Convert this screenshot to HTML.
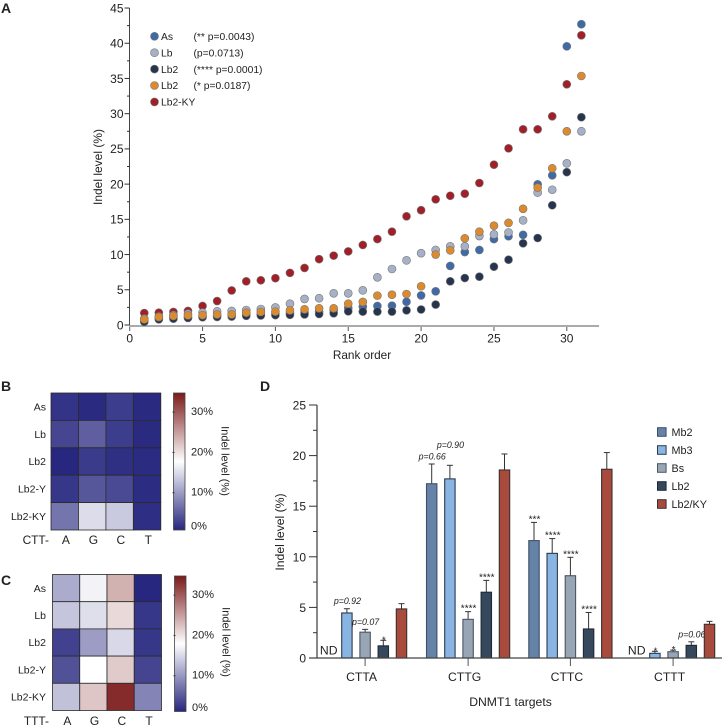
<!DOCTYPE html>
<html><head><meta charset="utf-8"><title>Indel level figure</title>
<style>
html,body{margin:0;padding:0;background:#fff;width:723px;height:727px;overflow:hidden}
svg{display:block;font-family:"Liberation Sans",sans-serif}
text{fill:#222}
</style></head>
<body>
<svg id="fig" width="723" height="727" viewBox="0 0 723 727">
<text x="1" y="13" font-size="14" font-weight="bold" fill="#000">A</text>
<text x="1" y="391" font-size="14" font-weight="bold" fill="#000">B</text>
<text x="1" y="585" font-size="14" font-weight="bold" fill="#000">C</text>
<text x="260" y="391" font-size="14" font-weight="bold" fill="#000">D</text>
</svg>
<script>
// Panel A data
const ranks=[1,2,3,4,5,6,7,8,9,10,11,12,13,14,15,16,17,18,19,20,21,22,23,24,25,26,27,28,29,30,31];
const scatterNames=['Lb2-KY','As','Lb','Lb2','Lb2-orange'];
const scatterKY=[1.7,1.75,1.85,2.0,2.7,3.4,4.9,6.2,6.35,6.65,7.4,8.1,9.35,9.85,10.45,11.36,12.2,13.25,15.43,16.3,17.84,18.35,18.64,20.16,22.76,25.08,27.78,27.78,29.63,34.17,41.13];
const scatterAs=[0.6,0.9,1.0,1.1,1.2,1.3,1.4,1.45,1.5,1.6,1.7,1.8,1.9,2.1,2.4,2.6,2.7,2.75,3.3,4.2,4.78,8.38,10.36,10.65,12.2,12.6,12.8,19.97,21.25,39.56,42.7];
const scatterLb=[0.9,1.2,1.4,1.6,1.75,1.95,2.0,2.13,2.27,2.5,3.02,3.7,3.8,4.5,4.5,4.92,6.77,7.95,9.18,10.2,10.65,11.17,11.17,12.63,12.87,13.15,14.86,18.8,19.2,22.95,27.5];
const scatterLb2=[0.45,0.8,0.9,1.0,1.1,1.15,1.2,1.3,1.35,1.4,1.45,1.5,1.56,1.66,1.94,1.9,1.9,1.9,2.08,2.2,2.9,6.2,6.67,6.86,8.28,9.27,11.6,12.35,17.0,21.7,29.5];
const scatterOrange=[0.8,1.13,1.28,1.37,1.4,1.5,1.5,1.75,1.85,1.9,2.08,2.23,2.37,2.37,3.03,3.27,4.17,4.3,4.4,5.5,10.0,10.6,12.3,13.25,14.1,14.5,16.5,19.5,22.25,27.5,35.35];
const scatterYTicks=[0,5,10,15,20,25,30,35,40,45];
const scatterYMinor=[2.5,7.5,12.5,17.5,22.5,27.5,32.5,37.5,42.5];
const scatterXTicks=[0,5,10,15,20,25,30];
const scatterLegend=['As','Lb','Lb2','Lb2','Lb2-KY'];
const scatterLegendP=['(** p=0.0043)','(p=0.0713)','(**** p=0.0001)','(* p=0.0187)',''];
// Panels B, C data
const heatRows=['As','Lb','Lb2','Lb2-Y','Lb2-KY'];
const heatCols=['A','G','C','T'];
const heatB=[[1.7,1.0,2.5,1.0],[3.1,5.0,2.5,1.0],[0.8,2.3,1.4,1.1],[2.0,4.4,3.4,1.2],[6.8,14.8,13.3,1.3]];
const heatC=[[11,16.5,23.2,0.8],[13,15,20.3,2.0],[2.8,9.8,14.5,2.0],[4,17.5,21.4,3],[12.7,21.7,33,8]];
const cbarTicks=[0,10,20,30];
// Panel D data
const barGroups=['CTTA','CTTG','CTTC','CTTT'];
const barSeries=['Mb2','Mb3','Bs','Lb2','Lb2/KY'];
const barValues=[[null,4.45,2.55,1.2,4.85],[17.22,17.7,3.82,6.5,18.58],[11.6,10.34,8.13,2.87,18.65],[null,0.46,0.62,1.25,3.33]];
const barErrTops=[[null,4.87,2.83,1.75,5.37],[19.17,19.04,4.58,7.67,20.16],[13.4,11.8,9.95,4.5,20.3],[null,0.66,0.78,1.6,3.62]];
const barNotes=[[null,'p=0.92','p=0.07','*',null],['p=0.66','p=0.90','****','****',null],['***','****','****','****',null],[null,'*','*','p=0.06',null]];
const barYTicks=[0,5,10,15,20,25];
const barYMinor=[2.5,7.5,12.5,17.5,22.5];

const svg=document.getElementById('fig');
const NS='http://www.w3.org/2000/svg';
function mk(tag,attrs,parent){const e=document.createElementNS(NS,tag);for(const k in attrs)e.setAttribute(k,attrs[k]);(parent||svg).appendChild(e);return e;}
function line(x1,y1,x2,y2,stroke,w){return mk('line',{x1,y1,x2,y2,stroke,'stroke-width':w});}
function label(x,y,s,size,anchor,extra){const e=mk('text',Object.assign({x,y,'font-size':size,'text-anchor':anchor||'start'},extra||{}));e.textContent=s;return e;}
let el;

// ---------- Panel A ----------
const ax=v=>129.7+v*14.57;
const ay=v=>325-v*7.044;
el=line(129.5,ay(45),129.5,326,'#444',1);


el=line(129,326,599,326,'#aaa',2);


scatterYTicks.forEach(v=>{
  el=line(124.5,ay(v),129.5,ay(v),'#333',1);
  
  
  el=label(123.5,ay(v)+4.3,String(v),12,'end');
  
  
});
scatterYMinor.forEach(v=>{
  el=line(127,ay(v),129.5,ay(v),'#333',1);
  
  
});
scatterXTicks.forEach(v=>{
  el=line(ax(v),327,ax(v),331,'#555',1);
  
  
  el=label(ax(v),342.5,String(v),12,'middle');
  
  
});
el=label(362,359,'Rank order',11.8,'middle');


el=label(0,0,'Indel level (%)',12,'middle',{transform:'translate(102,167) rotate(-90)'});


const scatterDraw=[[scatterKY,'#a01f28'],[scatterAs,'#3f6aa6'],[scatterLb,'#a6b0c6'],[scatterLb2,'#27344d'],[scatterOrange,'#dc8a2e']];
scatterDraw.forEach((s,i)=>{
  s[0].forEach((v,j)=>{
    el=mk('circle',{cx:ax(ranks[j]),cy:ay(v),r:4,fill:s[1],stroke:'#777','stroke-width':0.6});
    
    
  });
});
const legendColors=['#3f6aa6','#a6b0c6','#27344d','#dc8a2e','#a01f28'];
scatterLegend.forEach((t,i)=>{
  const y=36.3+i*16.4;
  el=mk('circle',{cx:154.5,cy:y,r:4,fill:legendColors[i],stroke:'#777','stroke-width':0.6});
  
  
  el=label(161,y+3.7,t,10.3);
  
  
  if(scatterLegendP[i]){
    el=label(193.5,y+3.7,scatterLegendP[i],10.3);
    
    
  }
});

// ---------- Panels B, C ----------
function hex(a,b,t){return Math.round(a+(b-a)*t);}
function cmap(v){
  const lo=[38,38,127],mid=[255,255,255],hi=[123,26,26],w=17.5,m=0.7,M=34.25;
  const t=v<w?Math.max(0,(v-m)/(w-m)):Math.min(1,(v-w)/(M-w));
  const a=v<w?lo:mid,b=v<w?mid:hi;
  return 'rgb('+hex(a[0],b[0],t)+','+hex(a[1],b[1],t)+','+hex(a[2],b[2],t)+')';
}
const defs=mk('defs',{});
const grad=mk('linearGradient',{id:'cbar',x1:0,y1:1,x2:0,y2:0},defs);
[0.7,5,9,13,17.5,21,25,29,34.25].forEach(v=>{mk('stop',{offset:(v-0.7)/33.55,'stop-color':cmap(v)},grad);});
function heatmap(id,data,x0,y0,cw,ch,prefix,barX,barTop,barBottom,zeroY,titleY,xLabelY){
  data.forEach((row,r)=>{row.forEach((v,c)=>{
    el=mk('rect',{x:x0+c*cw,y:y0+r*ch,width:cw,height:ch,fill:cmap(v),stroke:'#2a2a2a','stroke-width':0.8});
    
    
  });});
  heatRows.forEach((t,r)=>{
    el=label(46,y0+r*ch+ch/2+3.7,t,10.5,'end');
    
    
  });
  heatCols.forEach((t,c)=>{
    el=label(x0+c*cw+cw/2+1.2,xLabelY,t,12,'middle');
    
    
  });
  el=label(49,xLabelY,prefix,11.9,'end');
  
  
  el=mk('rect',{x:barX,y:barTop,width:11.5,height:barBottom-barTop,fill:'url(#cbar)',stroke:'#444','stroke-width':0.8});
  
  
  cbarTicks.forEach(v=>{
    const y=zeroY-v*4.03;
    if(v>0){
      el=line(barX-1,y,barX+1,y,'#333',1);
      
      
    }
    el=label(barX+17.5,(v===0?barBottom-0.5:y+3),v+'%',11);
    
    
  });
  el=label(0,0,'Indel level (%)',11,'middle',{transform:'translate('+(barX+48)+','+titleY+') rotate(90)'});
  
  
}
heatmap('heatmap-b',heatB,51,393,27.45,27.4,'CTT-',173.5,393,530,533,461,544);
heatmap('heatmap-c',heatC,52.5,574.5,27.25,27.2,'TTT-',174.5,576,711.5,716,642,725);

// ---------- Panel D ----------
const by=v=>658-v*10.12;
const groupStart=[328.7,431.7,534,636.7];
const seriesFill=['#6582a8','#8ab4e2','#98a5b5','#35485c','#a94b3c'];
const seriesEdge=['#3f4f63','#2b3a4d','#4b5563','#1e2a38','#3a3030'];
function noteBaseline(note,top){
  if(note==='p=0.90')return top-17.5;
  if(note[0]==='p')return top-4.5;
  if(note==='*')return top+3;
  return top;
}
el=line(317,by(25),317,658,'#555',1.4);


barYTicks.forEach(v=>{
  el=line(309,by(v),317,by(v),'#333',1);
  
  
  el=label(306,by(v)+4.5,String(v),12,'end');
  
  
});
barYMinor.forEach(v=>{
  el=line(313,by(v),317,by(v),'#333',1);
  
  
});
el=label(0,0,'Indel level (%)',12.2,'middle',{transform:'translate(284,532) rotate(-90)'});


barGroups.forEach((g,i)=>{
  barValues[i].forEach((v,s)=>{
    const cx=groupStart[i]+s*18.2;
    if(v===null)return;
    el=line(cx,by(barErrTops[i][s]),cx,by(v),'#333',1);
    
    
    el=line(cx-3,by(barErrTops[i][s]),cx+3,by(barErrTops[i][s]),'#333',1);
    
    
    el=mk('rect',{x:cx-5.2,y:by(v),width:10.4,height:658-by(v),fill:seriesFill[s],stroke:seriesEdge[s],'stroke-width':1.1});
    
    
    const note=barNotes[i][s];
    if(note){
      const isP=note[0]==='p';
      el=label(cx+0.5,noteBaseline(note,by(barErrTops[i][s])),note,isP?8.8:10,'middle',isP?{'font-style':'italic',fill:'#333'}:{});
      
      
    }
  });
  const tx=groupStart[i]+2*18.2;
  el=line(tx,658,tx,666,'#555',1);
  
  
  el=label(tx-3.5,681,g,12.2,'middle');
  
  
  if(barValues[i][0]===null){
    el=label(groupStart[i],654.5,'ND',12.2,'middle');
    
    
  }
});
el=line(309,658,722,658,'#444',1.2);


el=label(510.5,706,'DNMT1 targets',12.2,'middle');


barSeries.forEach((t,i)=>{
  const y=432+i*18;
  el=mk('rect',{x:657.5,y:y-4.3,width:8.6,height:8.6,fill:seriesFill[i],stroke:seriesEdge[i],'stroke-width':1});
  
  
  el=label(671.5,y+3.9,t,10.8);
  
  
});
</script>
</body></html>
